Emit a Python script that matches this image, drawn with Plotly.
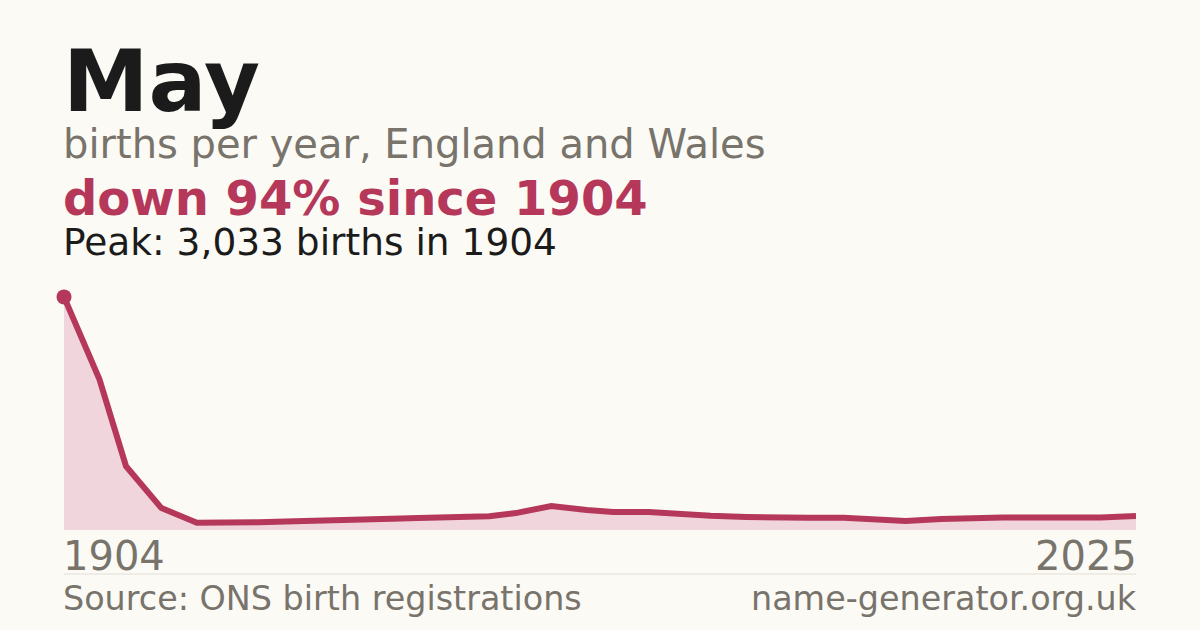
import plotly.graph_objects as go

# May, births per year in England and Wales
years = [1904, 1908, 1911, 1915, 1919, 1922, 1926, 1930, 1933, 1937, 1941, 1944,
         1948, 1952, 1955, 1959, 1963, 1966, 1970, 1974, 1977, 1981, 1985, 1988,
         1992, 1996, 1999, 2003, 2007, 2010, 2014, 2018, 2021, 2025]
births = [3033, 1960, 830, 285, 95, 95, 100, 115, 128, 140, 148, 155,
          160, 178, 220, 311, 259, 235, 233, 196, 186, 170, 158, 158,
          158, 132, 118, 142, 162, 162, 162, 162, 162, 182]

peak_year = 1904
peak_births = 3033
first_year, last_year = 1904, 2025

RED = "#b5385a"
FILL = "#f1d5dc"
BG = "#fbfaf5"
GREY = "#78736b"
INK = "#1b1b1b"
FONT = "DejaVu Sans"

W, H = 1200, 630
L, R, T, B = 64, 64, 281, 100
plot_h = H - T - B


def py(pix):
    # pixel row -> paper y
    return (H - B - pix) / plot_h


fig = go.Figure()

fig.add_trace(go.Scatter(
    x=years, y=births, mode="lines",
    line=dict(color=RED, width=6),
    fill="tozeroy", fillcolor=FILL,
    hoverinfo="skip", cliponaxis=False,
))
fig.add_trace(go.Scatter(
    x=[peak_year], y=[peak_births], mode="markers",
    marker=dict(color=RED, size=15),
    hoverinfo="skip", cliponaxis=False,
))

ann = [
    dict(text="<b>May</b>", y=py(81), size=86, color=INK),
    dict(text="births per year, England and Wales", y=py(144), size=40, color=GREY),
    dict(text="<b>down 94% since 1904</b>", y=py(198), size=48, color=RED),
    dict(text="Peak: 3,033 births in 1904", y=py(242), size=37.5, color=INK),
    dict(text="Source: ONS birth registrations", y=py(598), size=33.4, color=GREY),
]
for a in ann:
    fig.add_annotation(
        text=a["text"], xref="paper", yref="paper", x=0, y=a["y"],
        xanchor="left", yanchor="middle", showarrow=False, xshift=-3,
        font=dict(family=FONT, size=a["size"], color=a["color"]),
    )
fig.add_annotation(
    text="name-generator.org.uk", xref="paper", yref="paper", x=1, y=py(598),
    xanchor="right", yanchor="middle", showarrow=False, xshift=3,
    font=dict(family=FONT, size=33.4, color=GREY),
)
fig.add_annotation(
    text=str(first_year), xref="x", yref="paper", x=first_year, y=py(556),
    xanchor="left", yanchor="middle", showarrow=False, xshift=-3,
    font=dict(family=FONT, size=40, color=GREY),
)
fig.add_annotation(
    text=str(last_year), xref="x", yref="paper", x=last_year, y=py(556),
    xanchor="right", yanchor="middle", showarrow=False, xshift=3,
    font=dict(family=FONT, size=40, color=GREY),
)

fig.add_shape(type="line", xref="paper", yref="paper", x0=0, x1=1,
              y0=py(574), y1=py(574), line=dict(color="#e2ded6", width=1))

fig.update_layout(
    width=W, height=H,
    margin=dict(l=L, r=R, t=T, b=B),
    paper_bgcolor=BG, plot_bgcolor=BG,
    showlegend=False,
    xaxis=dict(range=[first_year, last_year], visible=False),
    yaxis=dict(range=[0, 3240], visible=False),
)

fig.write_html(
    "out.html",
    config={"displayModeBar": False},
    post_script="document.body.style.margin='0';document.body.style.background='%s';" % BG,
)
